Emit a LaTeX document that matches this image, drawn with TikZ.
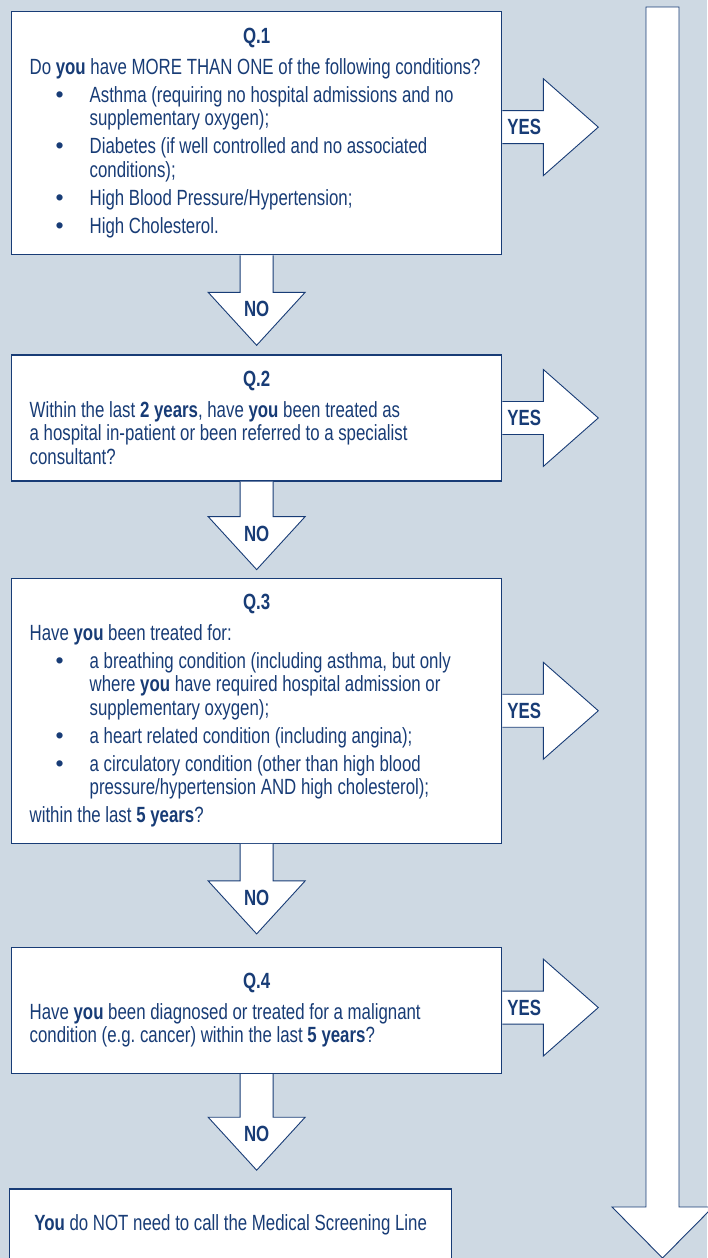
\documentclass[tikz,border=0pt]{standalone}
\usepackage{fontspec}
\setmainfont{Liberation Sans}[FakeStretch=0.765]
\newfontfamily\dotfont{Liberation Sans}
\usetikzlibrary{positioning}
\definecolor{navy}{RGB}{24,60,118}
\definecolor{paleblue}{RGB}{206,217,227}
\frenchspacing
\tikzstyle{qbox}=[draw=navy, line width=1.3pt, fill=white, text=navy, inner xsep=18pt, inner ysep=0pt, text width=454pt, align=flush left, font=\fontsize{22}{23.5}\selectfont]
\tikzstyle{endbox}=[qbox, text width=410pt, inner xsep=16pt, align=flush center, text height=42pt, text depth=60pt]
\tikzstyle{block}=[draw=navy, line width=0.9pt, fill=white, line join=miter]
\tikzstyle{tag}=[text=navy, inner sep=0pt, font=\fontsize{22}{23.5}\selectfont\bfseries]
\newcommand{\qhead}[1]{{\centering\bfseries #1\par}\vspace{7pt}}
\newcommand{\qitem}[1]{\par\vspace{4.5pt}{\leftskip=60pt\noindent\llap{{\dotfont\fontsize{23}{0}\selectfont\textbullet}\hspace{26pt}}#1\par}}
% block arrows hung on a box: box, label name, offset
\newcommand{\yesarrow}[3]{%
  \draw [block] (#1.east) ++(0,16.5+#3) -- ++(41,0) -- ++(0,32) -- ++(55,-48.5) -- ++(-55,-48.5) -- ++(0,32) -- ++(-41,0);
  \path (#1.east) ++(22,#3) node [tag] (#2) {YES};}
\newcommand{\noarrow}[3]{%
  \draw [block] (#1.south) ++(-16.5,0) -- ++(0,-#3) -- ++(-32,0) -- ++(48.5,-53) -- ++(48.5,53) -- ++(-32,0) -- ++(0,#3);
  \path (#1.south) ++(0,-#3-17) node [tag] (#2) {NO};}

\begin{document}
\begin{tikzpicture}[x=1pt, y=1pt]
    \useasboundingbox [fill=paleblue] (0,0) rectangle (707,-1258);

    % long YES arrow on the right
    \coordinate (top) at (662.5,-7);
    \coordinate (tip) at (662.5,-1258);
    \draw [block] (top) ++(-16.5,0) -- ++(0,-1200) -- ++(-34,0) -- (tip) -- ++(50.5,51) -- ++(-34,0) -- ++(0,1200) -- cycle;

    \node (q1) [qbox, anchor=north west, minimum height=243pt] at (11,-11) {%
      \qhead{Q.1}
      Do \textbf{you} have MORE THAN ONE of the following conditions?
      \qitem{Asthma (requiring no hospital admissions and no\\supplementary oxygen);}
      \qitem{Diabetes (if well controlled and no associated\\conditions);}
      \qitem{High Blood Pressure/Hypertension;}
      \qitem{High Cholesterol.}};
    \node (q2) [qbox, minimum height=126pt, below=99pt of q1] {%
      \qhead{Q.2}
      Within the last \textbf{2 years}, have \textbf{you} been treated as\\
      a hospital in-patient or been referred to a specialist\\
      consultant?};
    \node (q3) [qbox, minimum height=265pt, below=96pt of q2] {%
      \qhead{Q.3}
      Have \textbf{you} been treated for:
      \qitem{a breathing condition (including asthma, but only\\where \textbf{you} have required hospital admission or\\supplementary oxygen);}
      \qitem{a heart related condition (including angina);}
      \qitem{a circulatory condition (other than high blood\\pressure/hypertension AND high cholesterol);}
      \par\vspace{4.5pt}within the last \textbf{5 years}?};
    \node (q4) [qbox, minimum height=126pt, below=103pt of q3] {%
      \qhead{Q.4}
      Have \textbf{you} been diagnosed or treated for a malignant\\
      condition (e.g. cancer) within the last \textbf{5 years}?};
    \node (end) [endbox, below=114pt of q4.south west, anchor=north west, xshift=-2pt] {%
      \textbf{You} do NOT need to call the Medical Screening Line};

    \yesarrow{q1}{yes1}{6}
    \yesarrow{q2}{yes2}{0}
    \yesarrow{q3}{yes3}{0}
    \yesarrow{q4}{yes4}{3}
    \noarrow{q1}{no1}{37}
    \noarrow{q2}{no2}{35}
    \noarrow{q3}{no3}{37}
    \noarrow{q4}{no4}{43}
\end{tikzpicture}
\end{document}
